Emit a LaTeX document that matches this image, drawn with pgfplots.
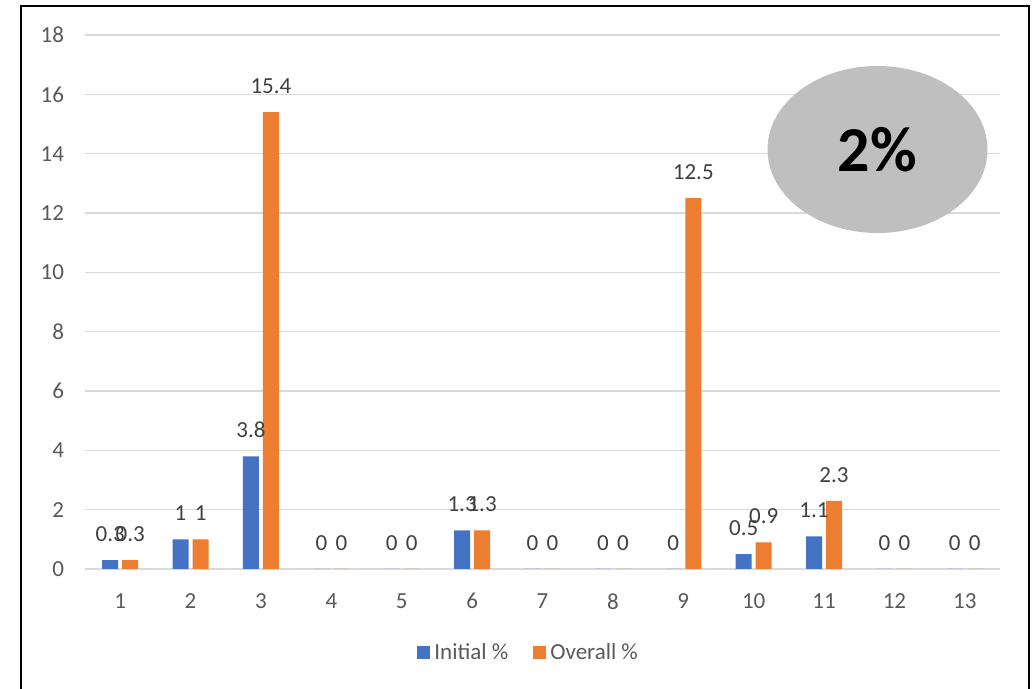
\documentclass[border=0pt]{standalone}
\usepackage{fontspec}
\setmainfont{Carlito}
\usepackage{pgfplots}
\pgfplotsset{compat=1.18}
\definecolor{cblue}{HTML}{4472C4}
\definecolor{corange}{HTML}{ED7D31}
\definecolor{cgrid}{HTML}{D9D9D9}
\definecolor{ctick}{HTML}{595959}
\definecolor{clabel}{HTML}{404040}
\definecolor{cell}{HTML}{BFBFBF}
\begin{document}
\begin{tikzpicture}[x=0.5pt,y=0.5pt]
\useasboundingbox (0,0) rectangle (1035,689);
\draw[line width=1pt] (21,0) -- (21,683) -- (1029,683) -- (1029,0);
\begin{axis}[
  at={(42.5pt,60pt)}, anchor=south west,
  scale only axis, width=457.5pt, height=267pt,
  ybar=2pt, bar width=8pt,
  xmin=0.5, xmax=13.5, ymin=0, ymax=18,
  xtick={1,...,13}, ytick={0,2,...,18},
  ymajorgrids, major grid style={cgrid, line width=0.8pt},
  axis line style={draw=none},
  major tick length=0pt,
  /pgf/number format/assume math mode=true,
  font=\fontsize{11.5}{13}\selectfont,
  ticklabel style={color=ctick, font=\fontsize{11.5}{13}\selectfont},
  xticklabel style={yshift=-8.7pt},
  yticklabel style={xshift=-7pt},
  nodes near coords,
  every node near coord/.append style={color=clabel, font=\fontsize{11.5}{13}\selectfont, anchor=south, inner sep=0pt, yshift=9pt},
  legend columns=2,
  legend style={at={(0.486,-0.157)}, anchor=center, draw=none, fill=none, font=\fontsize{11.5}{13}\selectfont, text=ctick,
    /tikz/every even column/.append style={column sep=10.5pt}},
  legend image code/.code={\fill[#1] (0pt,-3.25pt) rectangle (6.5pt,3.25pt);},
]
\addplot[fill=cblue, draw=none] coordinates {(1,0.3) (2,1) (3,3.8) (4,0) (5,0) (6,1.3) (7,0) (8,0) (9,0) (10,0.5) (11,1.1) (12,0) (13,0)};
\addplot[fill=corange, draw=none] coordinates {(1,0.3) (2,1) (3,15.4) (4,0) (5,0) (6,1.3) (7,0) (8,0) (9,12.5) (10,0.9) (11,2.3) (12,0) (13,0)};
\legend{Initial \%, Overall \%}
\end{axis}
\fill[cell] (877.5,539.5) ellipse [x radius=110, y radius=83.5];
\node[font=\fontsize{32}{36}\selectfont\bfseries] at (877.5,539.5) {2\%};
\end{tikzpicture}
\end{document}
